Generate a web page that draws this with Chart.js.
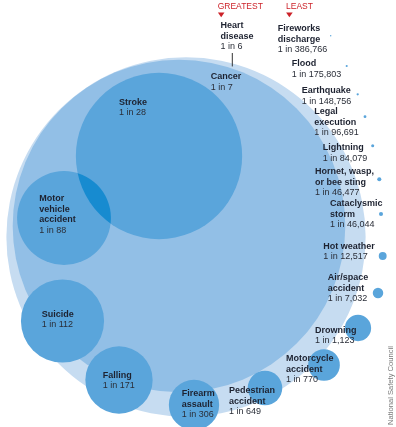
<!DOCTYPE html>
<html>
<head>
<meta charset="utf-8">
<script src="https://cdn.jsdelivr.net/npm/chart.js@4.4.1/dist/chart.umd.min.js"></script>
<style>
  html, body { margin: 0; padding: 0; background: #fff; }
  #wrap { width: 396px; height: 427px; position: relative; }
</style>
</head>
<body>
<div id="wrap"><canvas id="chart"></canvas></div>
<script>
// dati: cause di morte e probabilita' "1 in N"
var causes = [
  ['Heart', 'disease'], ['Cancer'], ['Stroke'], ['Motor', 'vehicle', 'accident'],
  ['Suicide'], ['Falling'], ['Firearm', 'assault'], ['Pedestrian', 'accident'],
  ['Motorcycle', 'accident'], ['Drowning'], ['Air/space', 'accident'], ['Hot weather'],
  ['Cataclysmic', 'storm'], ['Hornet, wasp,', 'or bee sting'], ['Lightning'],
  ['Legal', 'execution'], ['Earthquake'], ['Flood'], ['Fireworks', 'discharge']
];
var oddsOneIn = [6, 7, 28, 88, 112, 171, 306, 649, 770, 1123, 7032, 12517,
  46044, 46477, 84079, 96691, 148756, 175803, 386766];

// layout: centro delle bolle (unita' del grafico) e posizione delle etichette
var bubbleX = [186, 179, 159, 64, 62.5, 119, 194, 265, 324, 358, 378, 382.7, 381, 379.3, 372.7, 365, 357.7, 346.7, 330.7];
var bubbleY = [237, 226, 156, 218, 321, 380, 405, 388, 365, 328, 293, 256, 214, 179.3, 145.7, 116.7, 94.3, 66, 35.7];
var labelX = [220.5, 210.7, 119, 39.3, 41.7, 102.7, 181.7, 229, 286, 315, 327.7, 323.3, 330, 315, 322.7, 314.3, 301.7, 291.7, 277.7];
var labelY = [28, 79.3, 104.7, 201.3, 316.7, 377.7, 396, 393, 361, 332.7, 280, 248.7, 206, 174.3, 150, 114.3, 93.3, 66, 31];

// area della bolla proporzionale alla probabilita'
var SIZE_K = 440;
function radiusFor(n) {
  return SIZE_K / Math.sqrt(n);
}

function formatOdds(n) {
  return '1 in ' + n.toLocaleString('en-US');
}

var points = oddsOneIn.map(function (n, i) {
  return { x: bubbleX[i], y: bubbleY[i], r: radiusFor(n) };
});

var colors = oddsOneIn.map(function (n, i) {
  if (i === 0) return '#c6dcf1';
  if (i === 1) return '#92bfe6';
  return '#5aa5db';
});

var FONT = '"Liberation Sans", Arial, Helvetica, sans-serif';

// plugin che disegna intersezione, etichette e note
var labelsPlugin = {
  id: 'labels',
  afterDatasetsDraw: function (chart) {
    var ctx = chart.ctx;
    var els = chart.getDatasetMeta(0).data;
    var sx = chart.scales.x, sy = chart.scales.y;

    // intersezione ictus / incidente stradale piu' scura
    var a = els[2], b = els[3];
    ctx.save();
    ctx.beginPath();
    ctx.arc(a.x, a.y, a.options.radius, 0, Math.PI * 2);
    ctx.clip();
    ctx.beginPath();
    ctx.arc(b.x, b.y, b.options.radius, 0, Math.PI * 2);
    ctx.fillStyle = '#178bd0';
    ctx.fill();
    ctx.restore();

    ctx.save();
    ctx.textBaseline = 'alphabetic';
    ctx.textAlign = 'left';
    var lh = 10.5;
    for (var i = 0; i < causes.length; i++) {
      var px = sx.getPixelForValue(labelX[i]);
      var py = sy.getPixelForValue(labelY[i]);
      var lines = causes[i];
      ctx.fillStyle = '#1d2230';
      ctx.font = 'bold 9px ' + FONT;
      for (var j = 0; j < lines.length; j++) {
        ctx.fillText(lines[j], px, py + j * lh);
      }
      ctx.font = '9px ' + FONT;
      ctx.fillStyle = '#2a2e38';
      ctx.fillText(formatOdds(oddsOneIn[i]), px, py + lines.length * lh);
    }

    // linea che collega "1 in 6" al cerchio
    var heart = els[0];
    var lx = sx.getPixelForValue(232.3);
    var dx = lx - heart.x;
    var edge = heart.y - Math.sqrt(heart.options.radius * heart.options.radius - dx * dx);
    ctx.strokeStyle = '#333';
    ctx.lineWidth = 1;
    ctx.beginPath();
    ctx.moveTo(lx, sy.getPixelForValue(53));
    ctx.lineTo(lx, edge + 3);
    ctx.stroke();

    // GREATEST / LEAST
    ctx.fillStyle = '#cc2229';
    ctx.font = '8.5px ' + FONT;
    ctx.fillText('GREATEST', sx.getPixelForValue(217.7), sy.getPixelForValue(9.3));
    ctx.fillText('LEAST', sx.getPixelForValue(286), sy.getPixelForValue(9.3));
    drawTriangle(ctx, sx.getPixelForValue(221.2), sy.getPixelForValue(12.6));
    drawTriangle(ctx, sx.getPixelForValue(289.4), sy.getPixelForValue(12.6));

    // fonte
    ctx.translate(sx.getPixelForValue(391), sy.getPixelForValue(425));
    ctx.rotate(-Math.PI / 2);
    ctx.fillStyle = '#7a7a7a';
    ctx.font = '7.6px ' + FONT;
    ctx.textBaseline = 'middle';
    ctx.fillText('National Safety Council', 0, 0);
    ctx.restore();
  }
};

function drawTriangle(ctx, cx, top) {
  ctx.beginPath();
  ctx.moveTo(cx - 3.3, top);
  ctx.lineTo(cx + 3.3, top);
  ctx.lineTo(cx, top + 4.6);
  ctx.closePath();
  ctx.fill();
}

var chart = new Chart(document.getElementById('chart'), {
  type: 'bubble',
  data: {
    datasets: [{
      data: points,
      backgroundColor: colors,
      borderWidth: 0,
      hoverBorderWidth: 0,
      clip: false
    }]
  },
  options: {
    responsive: true,
    maintainAspectRatio: false,
    animation: false,
    events: [],
    layout: { autoPadding: false, padding: 0 },
    plugins: { legend: { display: false }, tooltip: { enabled: false } },
    scales: {
      x: { type: 'linear', min: 0, max: 396, display: false },
      y: { type: 'linear', min: 0, max: 427, reverse: true, display: false }
    }
  },
  plugins: [labelsPlugin]
});
</script>
</body>
</html>
